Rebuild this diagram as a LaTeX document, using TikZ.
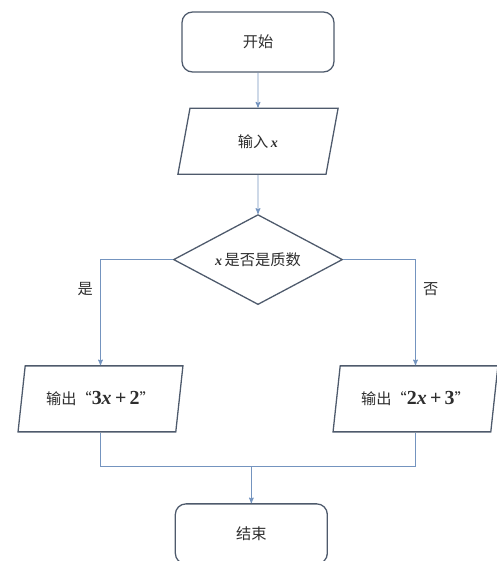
\documentclass[tikz,border=0pt]{standalone}
\usepackage{amsmath}
\usepackage{amssymb}
\usepackage{fontspec}
\usepackage{tikz}
\usetikzlibrary{shapes,arrows,positioning}
\newfontfamily\cjk{Noto Sans CJK SC}
\newfontfamily\tnr{Liberation Serif}
\newcommand{\bvar}[1]{{\tnr\bfseries\itshape #1}}
\newcommand{\bnum}[1]{{\tnr\bfseries\fontsize{17}{19}\selectfont #1}}
\definecolor{boxline}{HTML}{4E5A6C}
\definecolor{flowline}{HTML}{7494BF}
\definecolor{ink}{HTML}{2E2E2E}
\tikzset{>=stealth'}
\tikzset{end node/.style={rectangle,rounded corners=9pt,draw=boxline,line width=1.1pt,text=ink,minimum width=4.56cm,minimum height=1.8cm},
         io node/.style={trapezium,trapezium left angle=79,trapezium right angle=101,trapezium stretches=true,draw=boxline,line width=1.1pt,text=ink,minimum width=4.83cm,minimum height=1.98cm},
         out node/.style={io node,trapezium left angle=76,trapezium right angle=104,minimum width=4.95cm},
         test node/.style={diamond,aspect=1.88,draw=boxline,line width=1.1pt,text=ink,minimum width=5.07cm,minimum height=2.7cm,inner sep=0pt},
         flow/.style={draw=flowline,line width=0.8pt},
         }

\begin{document}
\begin{tikzpicture}[font=\cjk\fontsize{13}{15}\selectfont]

    \useasboundingbox (-7.74,1.26) rectangle (7.14,-15.57);

    \node[end node] (1) at (0,0) {开始};
    \node[io node] (2) [below = 1.05cm of 1] {输入\,\bvar{\large x}};
    \node[test node] (3) [below = 1.17cm of 2] {\bvar{\large x}\,是否是质数};
    \node[out node] (4) [below = 1.8cm of 3, xshift=-4.725cm] {输出“\bnum{3\bvar{x}\,+\,2}”};
    \node[out node] (5) [below = 1.8cm of 3, xshift=4.725cm] {输出“\bnum{2\bvar{x}\,+\,3}”};
    \node[end node] (6) [below = 5.94cm of 3, xshift=-0.2cm] {结束};
    \coordinate[above = 1.11cm of 6] (7);

    \draw[flow,->] (1) -- (2);
    \draw[flow,->] (2) -- (3);
    \draw[flow,->] (3) -| node[pos=0.64,left,xshift=-1mm,text=ink]{是} (4);
    \draw[flow,->] (3) -| node[pos=0.64,right,xshift=1mm,text=ink]{否} (5);
    \draw[flow] (4) |- (7);
    \draw[flow] (5) |- (7);
    \draw[flow,->] (7) -- (6);

\end{tikzpicture}
\end{document}
